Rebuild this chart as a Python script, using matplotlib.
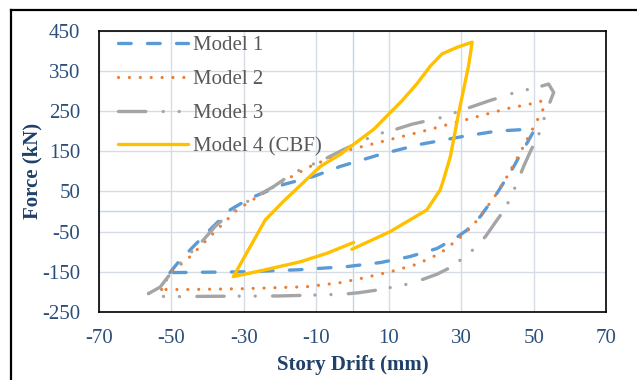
import numpy as np
import matplotlib
matplotlib.use('Agg')
import matplotlib.pyplot as plt
from matplotlib.lines import Line2D

plt.rcParams['font.family'] = ['Liberation Serif', 'DejaVu Serif']
plt.rcParams['axes.unicode_minus'] = False

# Model 1 - hysteresis loop
x1 = [-50.4, -48, -41, -33.8, -28.3, -19.1, -10.8, -3.4, 7.7, 18.7, 30.7, 39.9, 47.7, 50,
      48.2, 46.3, 44.5, 39.9, 35.3, 31.6, 28.8, 23.3, 15.9, 7.7, -1.5, -15, -30, -50.4]
y1 = [-152, -125, -60, 4, 33, 67, 87, 112, 142, 167, 187, 200, 204, 200,
      171, 142, 112, 46, -12, -46, -64, -92, -112, -127, -137, -145, -150, -152]

# Model 2
x2 = [-52.7, -50.4, -44.8, -37.5, -31.9, -28.3, -20, -11.7, -0.6, 8.6, 19.6, 31.6, 42.7, 50,
      52.3, 52.8, 49.6, 46.3, 42.7, 39, 33.4, 29.8, 24.2, 17.8, 10.4, 2.1, -3.4, -12.6,
      -30, -45, -52.7]
y2 = [-194, -154, -112, -46, 4, 25, 71, 112, 154, 175, 200, 229, 256, 269,
      275, 258, 204, 147, 88, 34, -33, -64, -104, -131, -150, -167, -177, -187,
      -192, -194, -194]

# Model 3
x3 = [-56.3, -53.1, -50.9, -47.6, -41.6, -37.9, -33.8, -28.3, -21.8, -16.3, -7.1, -2.5,
      6.7, 11.8, 16.4, 24.2, 33.4, 37.6, 46.3, 50, 54.1, 55.5, 53.7, 51.4, 49.1, 47.2,
      45.4, 42.2, 39.4, 36.7, 33.4, 27.5, 23.3, 18.7, 14.1, 6.3, 1.7, -2.9, -20, -40,
      -51.7, -56.3]
y3 = [-204, -188, -162, -129, -75, -37, -4, 29, 62, 96, 133, 154,
      192, 204, 217, 233, 262, 275, 300, 306, 317, 296, 254, 192, 150, 112,
      71, 8, -27, -62, -94, -137, -156, -171, -183, -196, -202, -206, -210, -211,
      -212, -204]

# Model 4 (CBF)
x4 = [0.3, -7.1, -14.4, -24.6, -32.9, -24.1, -19.1, -8.9, -3.4, 5.8, 13.6, 17.8, 21.5, 24.7,
      28.8, 33, 32, 29.3, 27, 25.1, 24.2, 20.5, 10.4, -0.2]
y4 = [-77, -104, -125, -146, -162, -21, 25, 112, 142, 204, 275, 318, 362, 392,
      408, 421, 362, 246, 137, 79, 54, 4, -50, -94]

labels = ['Model 1', 'Model 2', 'Model 3', 'Model 4 (CBF)']
xticks = np.arange(-70, 71, 20)
yticks = np.arange(-250, 451, 100)

tick_col = '#2B4F7A'
lab_col = '#1F4068'
fs = 15

fig = plt.figure(figsize=(6.37, 3.80), dpi=100)
ax = fig.add_axes([0.1553, 0.1789, 0.7964, 0.7408])

ax.plot(x1, y1, color='#5B9BD5', lw=2.4, linestyle=(0, (3.8, 4.9)),
        dash_capstyle='round', label=labels[0])
ax.plot(x2, y2, color='#ED7D31', lw=2.3, linestyle=(0, (0.01, 3.4)),
        dash_capstyle='round', label=labels[1])
ax.plot(x3, y3, color='#A5A5A5', lw=2.4, linestyle=(0, (8.2, 5.2, 0.01, 4.8, 0.01, 4.5)),
        dash_capstyle='round', label=labels[2])
ax.plot(x4, y4, color='#FFC000', lw=2.4, solid_capstyle='round', label=labels[3])

ax.set_xlim(-70, 70)
ax.set_ylim(-250, 450)
ax.set_xticks(xticks)
ax.set_yticks(yticks)
ax.grid(True, color='#D6DCE5', lw=1.0)
ax.set_axisbelow(True)
ax.axhline(0, color='#BDD7EE', lw=1.0, zorder=0.5)
ax.axvline(0, color='#BDD7EE', lw=1.0, zorder=0.5)
ax.tick_params(length=0, labelsize=fs, labelcolor=tick_col)
ax.tick_params(axis='x', pad=12)
ax.tick_params(axis='y', pad=13.5)
for s in ax.spines.values():
    s.set_linewidth(1.2)
    s.set_color('black')

ax.set_xlabel('Story Drift (mm)', fontsize=fs, fontweight='bold', color=lab_col)
ax.set_ylabel('Force (kN)', fontsize=fs, fontweight='bold', color=lab_col)
ax.xaxis.set_label_coords(0.5, -0.188)
ax.xaxis.label.set_va('center')
ax.yaxis.set_label_coords(-0.130, 0.5)
ax.yaxis.label.set_va('center')

leg = ax.legend(loc='upper left', bbox_to_anchor=(0.0266, 1.0), frameon=False, fontsize=fs,
                handlelength=3.4, handletextpad=0.24, labelspacing=0.68, borderpad=0.25,
                borderaxespad=0)
for t in leg.get_texts():
    t.set_color('#595959')

# outer chart frame (partly cropped)
fig.add_artist(Line2D([11/637, 1], [1 - 10/380, 1 - 10/380], transform=fig.transFigure,
                      color='black', lw=1.6))
fig.add_artist(Line2D([11/637, 11/637], [0, 1 - 10/380], transform=fig.transFigure,
                      color='black', lw=1.6))

plt.savefig('out.png', dpi=100)
